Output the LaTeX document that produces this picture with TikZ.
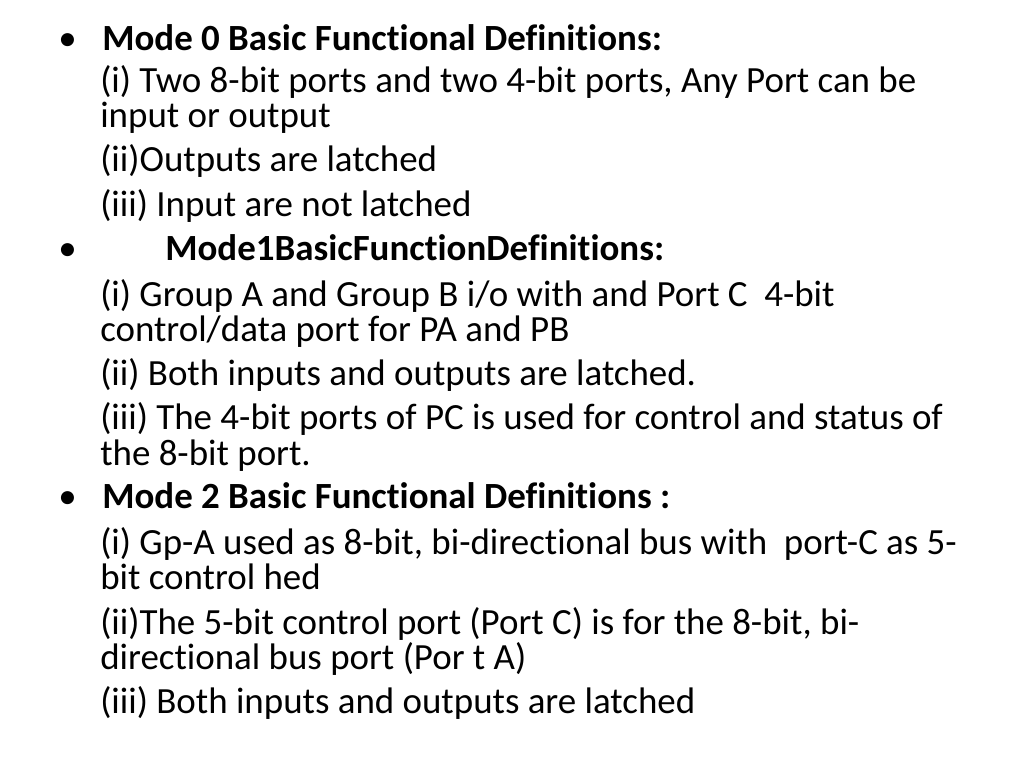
\documentclass[tikz,border=0pt]{standalone}
\usepackage{fontspec}
\setmainfont[Ligatures=NoCommon]{Carlito}
\begin{document}
\begin{tikzpicture}[x=0.75pt,y=-0.75pt,
  ln/.style={anchor=base west,inner sep=0pt,font=\fontsize{27.7}{32}\selectfont},
  bl/.style={anchor=base west,inner sep=0pt,font=\fontsize{27.7}{32}\selectfont}]
\useasboundingbox (0,0) rectangle (1024,768);
\node[bl] (b1) at (58,50) {•};
\node[ln] (t1) at (102,50) {\textbf{Mode 0 Basic Functional Definitions:}};
\node[ln] (t2) at (100,92) {(i) Two 8-bit ports and two 4-bit ports, Any Port can be};
\node[ln] (t3) at (100,127) {input or output};
\node[ln] (t4) at (100,171) {(ii)Outputs are latched};
\node[ln] (t5) at (100,216) {(iii) Input are not latched};
\node[bl] (b2) at (58,260) {•};
\node[ln] (t6) at (165,260) {\textbf{Mode1BasicFunctionDefinitions:}};
\node[ln] (t7) at (100,306) {(i) Group A and Group B i/o with and Port C\ \ 4-bit};
\node[ln] (t8) at (100,341) {control/data port for PA and PB};
\node[ln] (t9) at (100,385) {(ii) Both inputs and outputs are latched.};
\node[ln] (t10) at (100,429) {(iii) The 4-bit ports of PC is used for control and status of};
\node[ln] (t11) at (100,465) {the 8-bit port.};
\node[bl] (b3) at (58,508) {•};
\node[ln] (t12) at (102,508) {\textbf{Mode 2 Basic Functional Definitions :}};
\node[ln] (t13) at (100,554) {(i) Gp-A used as 8-bit, bi-directional bus with\ \ port-C as 5-};
\node[ln] (t14) at (100,589) {bit control hed};
\node[ln] (t15) at (100,634) {(ii)The 5-bit control port (Port C) is for the 8-bit, bi-};
\node[ln] (t16) at (100,669) {directional bus port (Por t A)};
\node[ln] (t17) at (100,713) {(iii) Both inputs and outputs are latched};
\end{tikzpicture}
\end{document}
